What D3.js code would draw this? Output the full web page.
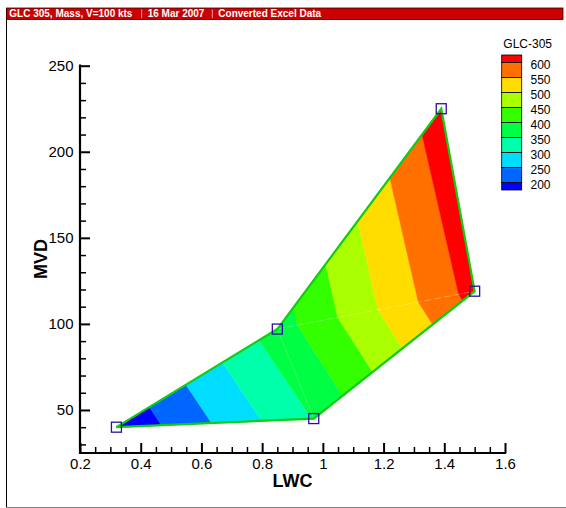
<!DOCTYPE html>
<html>
<head>
<meta charset="utf-8">
<script src="https://cdn.jsdelivr.net/npm/d3@7"></script>
<style>
  html, body { margin: 0; padding: 0; background: #fff; }
  svg { display: block; font-family: "Liberation Sans", Arial, Helvetica, sans-serif; }
</style>
</head>
<body>
<svg id="chart" width="566" height="508"></svg>
<script>
// ---- data ----
const headerParts = ["GLC 305, Mass, V=100 kts", "16 Mar 2007", "Converted Excel Data"];
const lwc = [0.32, 0.85, 0.97, 1.39, 1.5];      // node x values (LWC)
const mvd = [40, 97, 45, 225, 119];             // node y values (MVD)
const glc = [155, 375, 352, 630, 620];          // node contour values (GLC-305)
const triangles = [[0, 1, 2], [1, 2, 4], [1, 4, 3]];
const boundary = [0, 2, 4, 3, 1];
const levels = [200, 250, 300, 350, 400, 450, 500, 550, 600];
const bandColors = ["#0000ff", "#0066ff", "#00ddff", "#00ffaa", "#00ff44",
                    "#33ff00", "#aaff00", "#ffdd00", "#ff7000", "#ff0000"];
const xMajor = [0.2, 0.4, 0.6, 0.8, 1.0, 1.2, 1.4, 1.6];
const xMinor = [0.25, 0.3, 0.35, 0.45, 0.5, 0.55, 0.65, 0.7, 0.75, 0.85, 0.9, 0.95,
                1.05, 1.1, 1.15, 1.25, 1.3, 1.35, 1.45, 1.5, 1.55];
const yMajor = [50, 100, 150, 200, 250];
const yMinor = [30, 40, 60, 70, 80, 90, 110, 120, 130, 140, 160, 170, 180, 190, 210, 220, 230, 240];
const xTitle = "LWC", yTitle = "MVD", legendTitle = "GLC-305";

// ---- drawing ----
const svg = d3.select("#chart");
const x = d3.scaleLinear().domain([0.2, 1.6]).range([80, 505]);
const y = d3.scaleLinear().domain([25, 250]).range([453, 65.7]);

// frame & header
svg.append("line").attr("x1", 6.5).attr("x2", 6.5).attr("y1", 8).attr("y2", 507.5)
  .attr("stroke", "#000").attr("stroke-width", 1);
svg.append("line").attr("x1", 6).attr("x2", 566).attr("y1", 507.5).attr("y2", 507.5)
  .attr("stroke", "#808080").attr("stroke-width", 1);
svg.append("rect").attr("x", 6.5).attr("y", 8).attr("width", 556.5).attr("height", 11.5)
  .attr("fill", "#cc0000").attr("stroke", "#3a0000").attr("stroke-width", 0.8);
const hx = [9.3, 147.7, 218.3];
const sepX = [141.7, 212.3];
headerParts.forEach((t, i) => {
  svg.append("text").attr("x", hx[i]).attr("y", 17.3).attr("fill", "#fff")
    .attr("font-size", 10).attr("font-weight", "bold").text(t);
});
sepX.forEach(sx => svg.append("line").attr("x1", sx).attr("x2", sx).attr("y1", 9.5).attr("y2", 18)
  .attr("stroke", "#f0a0a0").attr("stroke-width", 1));

// contour bands
function clipPoly(poly, s) {
  const out = [];
  const n = poly.length;
  for (let i = 0; i < n; i++) {
    const cur = poly[i], prev = poly[(i + n - 1) % n];
    const sc = s(cur), sp = s(prev);
    const inter = () => {
      const t = sp / (sp - sc);
      return { x: prev.x + t * (cur.x - prev.x), y: prev.y + t * (cur.y - prev.y), v: prev.v + t * (cur.v - prev.v) };
    };
    if (sc >= 0) { if (sp < 0) out.push(inter()); out.push(cur); }
    else if (sp >= 0) out.push(inter());
  }
  return out;
}
const gBands = svg.append("g");
triangles.forEach(tri => {
  const poly = tri.map(i => ({ x: lwc[i], y: mvd[i], v: glc[i] }));
  bandColors.forEach((c, b) => {
    const lo = b === 0 ? -Infinity : levels[b - 1];
    const hi = b === levels.length ? Infinity : levels[b];
    let p = clipPoly(poly, q => q.v - lo);
    if (p.length) p = clipPoly(p, q => hi - q.v);
    if (p.length >= 3) {
      gBands.append("path")
        .attr("d", d3.line().x(q => x(q.x)).y(q => y(q.y))(p) + "Z")
        .attr("fill", c).attr("stroke", c).attr("stroke-width", 0.4);
    }
  });
});
// faint mesh seams
[[1, 4], [1, 2]].forEach(([a, b], k) => {
  svg.append("line").attr("x1", x(lwc[a])).attr("y1", y(mvd[a])).attr("x2", x(lwc[b])).attr("y2", y(mvd[b]))
    .attr("stroke", "#fff").attr("stroke-opacity", k === 0 ? 0.35 : 0.2).attr("stroke-width", 0.7)
    .attr("stroke-dasharray", k === 0 ? "6,4" : null);
});
// outer boundary
svg.append("path")
  .attr("d", d3.line().x(i => x(lwc[i])).y(i => y(mvd[i]))(boundary) + "Z")
  .attr("fill", "none").attr("stroke", "#11cc11").attr("stroke-width", 2.2).attr("stroke-linejoin", "miter");
// markers
svg.append("g").selectAll("rect").data(d3.range(lwc.length)).join("rect")
  .attr("x", i => x(lwc[i]) - 5).attr("y", i => y(mvd[i]) - 5)
  .attr("width", 10).attr("height", 10)
  .attr("fill", "none").attr("stroke", "#2a10a0").attr("stroke-width", 1.3);

// axes
const axisFont = 15;
const gx = svg.append("g").attr("transform", "translate(0,453)");
gx.call(d3.axisBottom(x).tickValues(xMajor).tickSizeInner(-10).tickSizeOuter(0).tickPadding(5.3)
  .tickFormat(d => d3.format("")(+d.toFixed(1))));
gx.select(".domain").remove();
gx.selectAll(".tick line").attr("stroke", "#000").attr("stroke-width", 2);
gx.selectAll("text").attr("font-size", axisFont).attr("font-family", null).attr("fill", "#000");
const gxm = svg.append("g").attr("transform", "translate(0,453)");
gxm.call(d3.axisBottom(x).tickValues(xMinor).tickSizeInner(-6).tickSizeOuter(0).tickFormat(""));
gxm.select(".domain").remove();
gxm.selectAll(".tick line").attr("stroke", "#000").attr("stroke-width", 1.5);

const gy = svg.append("g").attr("transform", "translate(80,0)");
gy.call(d3.axisLeft(y).tickValues(yMajor).tickSizeInner(-10).tickSizeOuter(0).tickPadding(6.5));
gy.select(".domain").remove();
gy.selectAll(".tick line").attr("stroke", "#000").attr("stroke-width", 2);
gy.selectAll("text").attr("font-size", axisFont).attr("font-family", null).attr("fill", "#000");
const gym = svg.append("g").attr("transform", "translate(80,0)");
gym.call(d3.axisLeft(y).tickValues(yMinor).tickSizeInner(-6).tickSizeOuter(0).tickFormat(""));
gym.select(".domain").remove();
gym.selectAll(".tick line").attr("stroke", "#000").attr("stroke-width", 1.5);

svg.append("path")
  .attr("d", `M${x(0.2)},${y(250)}V${y(25)}H${x(1.6)}`)
  .attr("fill", "none").attr("stroke", "#000").attr("stroke-width", 2.2).attr("stroke-linecap", "square");

svg.append("text").attr("x", 292.5).attr("y", 486.5).attr("text-anchor", "middle")
  .attr("font-size", 18).attr("font-weight", "bold").text(xTitle);
svg.append("text").attr("transform", "translate(46.5,259) rotate(-90)").attr("text-anchor", "middle")
  .attr("font-size", 18).attr("font-weight", "bold").text(yTitle);

// legend
const lg = svg.append("g");
lg.append("text").attr("x", 527.7).attr("y", 47.5).attr("text-anchor", "middle")
  .attr("font-size", 12).text(legendTitle);
const legTop = 55, half = 7.5, step = 15, legX = 501.7, legW = 20;
const nb = bandColors.length;
bandColors.slice().reverse().forEach((c, k) => {
  const y0 = k === 0 ? legTop : legTop + half + (k - 1) * step;
  const h = (k === 0 || k === nb - 1) ? half : step;
  lg.append("rect").attr("x", legX).attr("y", y0).attr("width", legW).attr("height", h)
    .attr("fill", c).attr("stroke", "#000").attr("stroke-width", 0.8);
});
levels.slice().reverse().forEach((lv, k) => {
  lg.append("text").attr("x", 530.5).attr("y", legTop + half + k * step + 6.5)
    .attr("font-size", 12).text(lv);
});
</script>
</body>
</html>
